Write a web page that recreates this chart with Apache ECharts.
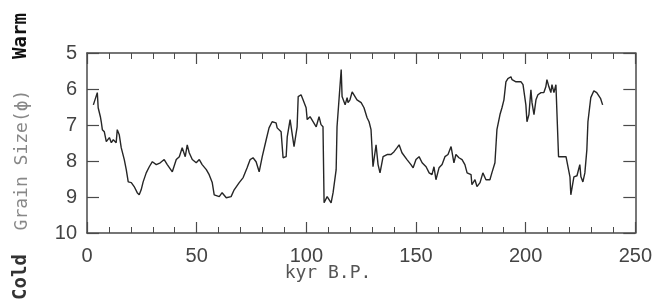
<!DOCTYPE html>
<html>
<head>
<meta charset="utf-8">
<script src="https://cdn.jsdelivr.net/npm/echarts@6/dist/echarts.min.js"></script>
<style>
  html, body { margin: 0; padding: 0; background: #fff; }
  #grain-chart { width: 655px; height: 303px; }
</style>
</head>
<body>
<div id="grain-chart"></div>
<script>
// age in kyr B.P. and grain size (phi)
var ages = [
  2.9, 4.7, 5.1, 6.1, 6.5, 7.0, 7.9, 8.8, 9.2, 10.2, 11.1, 12.0, 13.3, 13.8, 14.7, 15.6, 17.0, 17.9, 18.8, 20.2,
  21.5, 22.9, 23.8, 24.7, 25.6, 27.0, 28.4, 29.8, 31.6, 33.4, 35.2, 36.6, 38.9, 40.7, 42.1, 43.4, 44.8, 45.7, 46.6, 48.0,
  49.8, 51.2, 52.5, 54.4, 55.7, 57.1, 58.0, 60.3, 61.6, 63.5, 65.7, 67.1, 69.4, 71.2, 73.0, 74.4, 75.7, 77.1, 78.5, 79.9,
  81.7, 83.0, 84.4, 86.2, 86.7, 88.5, 89.4, 90.8, 91.3, 92.6, 93.5, 94.4, 95.8, 96.3, 97.6, 98.5, 99.9, 100.4, 101.7, 102.6,
  104.5, 105.8, 106.7, 107.6, 108.1, 109.5, 111.3, 112.2, 113.6, 114.0, 115.9, 116.3, 117.7, 118.6, 119.0, 119.9, 120.9, 122.2, 123.1, 125.0,
  126.3, 127.7, 128.6, 129.5, 130.4, 131.8, 132.7, 133.6, 135.0, 136.8, 138.6, 140.0, 141.4, 142.3, 143.6, 145.9, 147.7, 148.7, 150.0, 151.4,
  152.8, 154.6, 156.0, 157.3, 158.2, 159.1, 160.5, 161.9, 163.2, 164.6, 166.0, 167.3, 168.2, 169.6, 171.0, 172.3, 173.3, 175.1, 175.5, 176.9,
  177.8, 179.2, 180.5, 181.9, 183.7, 184.6, 186.0, 186.9, 188.3, 189.2, 190.1, 191.0, 191.9, 193.3, 193.8, 195.6, 197.9, 198.8, 200.1, 200.6,
  201.5, 202.4, 202.9, 203.8, 204.7, 205.6, 207.0, 208.3, 209.2, 209.7, 210.6, 211.5, 212.0, 212.9, 213.8, 214.3, 215.0, 218.4, 219.3, 220.2,
  220.6, 222.0, 223.4, 224.7, 225.2, 226.1, 227.0, 227.9, 228.4, 229.7, 231.1, 232.4, 234.2, 235.1
];
var grainSize = [
  6.44, 6.10, 6.52, 6.77, 6.91, 7.13, 7.19, 7.46, 7.41, 7.35, 7.49, 7.41, 7.49, 7.13, 7.27, 7.63, 7.96, 8.24, 8.58, 8.60,
  8.71, 8.88, 8.94, 8.80, 8.58, 8.33, 8.16, 8.02, 8.10, 8.05, 7.96, 8.10, 8.30, 7.96, 7.88, 7.63, 7.88, 7.55, 7.77, 7.96,
  8.05, 7.96, 8.10, 8.24, 8.38, 8.60, 8.94, 8.99, 8.88, 9.02, 8.99, 8.80, 8.60, 8.46, 8.19, 7.96, 7.91, 8.02, 8.30, 7.88,
  7.41, 7.08, 6.91, 6.94, 7.08, 7.19, 7.91, 7.88, 7.33, 6.85, 6.80, 7.60, 7.05, 6.21, 6.16, 6.30, 6.52, 6.85, 6.77, 6.80,
  7.05, 6.77, 6.99, 7.05, 9.16, 8.99, 9.16, 8.88, 8.24, 7.05, 5.46, 6.21, 6.44, 6.24, 6.38, 6.30, 6.08, 6.21, 6.30, 6.38,
  6.52, 6.80, 6.91, 7.13, 8.16, 7.55, 8.10, 8.33, 7.88, 7.82, 7.82, 7.74, 7.63, 7.55, 7.77, 7.96, 8.10, 8.19, 7.96, 7.88,
  8.05, 8.16, 8.33, 8.38, 8.16, 8.52, 8.19, 8.10, 7.88, 7.82, 7.60, 8.05, 7.82, 7.91, 7.96, 8.10, 8.33, 8.38, 8.66, 8.52,
  8.71, 8.60, 8.33, 8.52, 8.52, 8.33, 8.05, 7.13, 6.71, 6.52, 6.30, 5.80, 5.71, 5.66, 5.74, 5.80, 5.80, 5.88, 6.44, 6.91,
  6.71, 6.02, 6.38, 6.71, 6.30, 6.16, 6.10, 6.10, 5.94, 5.74, 5.94, 6.10, 5.88, 6.10, 5.88, 5.83, 7.88, 7.88, 7.91, 8.44,
  8.94, 8.44, 8.41, 8.10, 8.44, 8.58, 8.33, 7.69, 6.91, 6.24, 6.05, 6.10, 6.27, 6.44
];
var xTicks = [0, 50, 100, 150, 200, 250];
var yTicks = [5, 6, 7, 8, 9, 10];

var points = ages.map(function (a, i) { return [a, grainSize[i]]; });

var axisColor = '#4a4a4a';
var labelFont = { fontSize: 20, color: '#444', fontFamily: 'Liberation Sans' };

function xAxisCfg (pos, showLabel) {
  return {
    type: 'value',
    position: pos,
    min: xTicks[0],
    max: xTicks[xTicks.length - 1],
    interval: 50,
    axisLine: { show: true, onZero: false, lineStyle: { color: axisColor, width: 1.5 } },
    axisTick: { show: true, inside: true, length: 11, lineStyle: { color: axisColor, width: 1.2 } },
    minorTick: { show: true, splitNumber: 5, length: 6, lineStyle: { color: axisColor, width: 1 } },
    splitLine: { show: false },
    axisLabel: Object.assign({ show: showLabel, margin: 13 }, labelFont)
  };
}

function yAxisCfg (pos, showLabel) {
  return {
    type: 'value',
    position: pos,
    inverse: true,
    min: yTicks[0],
    max: yTicks[yTicks.length - 1],
    interval: 1,
    axisLine: { show: true, onZero: false, lineStyle: { color: axisColor, width: 1.5 } },
    axisTick: { show: true, inside: true, length: 12, lineStyle: { color: axisColor, width: 1.2 } },
    splitLine: { show: false },
    axisLabel: Object.assign({ show: showLabel, margin: 10 }, labelFont)
  };
}

var myChart = echarts.init(document.getElementById('grain-chart'));

var option = {
  backgroundColor: '#fff',
  animation: false,
  grid: { left: 87, right: 19, top: 53, bottom: 70 },
  xAxis: [xAxisCfg('bottom', true), xAxisCfg('top', false)],
  yAxis: [yAxisCfg('left', true), yAxisCfg('right', false)],
  graphic: [
    {
      type: 'text', x: 328, y: 273,
      style: { text: 'kyr B.P.', fontSize: 18, fontFamily: 'DejaVu Sans Mono', fill: '#555', align: 'center', verticalAlign: 'middle' }
    },
    {
      type: 'text', x: 22, y: 160, rotation: Math.PI / 2,
      style: { text: 'Grain Size(\u03d5)', fontSize: 18, fontFamily: 'DejaVu Sans Mono', fill: '#888', align: 'center', verticalAlign: 'middle' }
    },
    {
      type: 'text', x: 21, y: 36, rotation: Math.PI / 2,
      style: { text: 'Warm', fontSize: 19, fontWeight: 'bold', fontFamily: 'DejaVu Sans Mono', fill: '#111', align: 'center', verticalAlign: 'middle' }
    },
    {
      type: 'text', x: 21, y: 277, rotation: Math.PI / 2,
      style: { text: 'Cold', fontSize: 19, fontWeight: 'bold', fontFamily: 'DejaVu Sans Mono', fill: '#333', align: 'center', verticalAlign: 'middle' }
    }
  ],
  series: [{
    name: 'Grain size',
    type: 'line',
    xAxisIndex: 0,
    yAxisIndex: 0,
    showSymbol: false,
    data: points,
    lineStyle: { color: '#262626', width: 1.4 }
  }]
};

myChart.setOption(option);
</script>
</body>
</html>
